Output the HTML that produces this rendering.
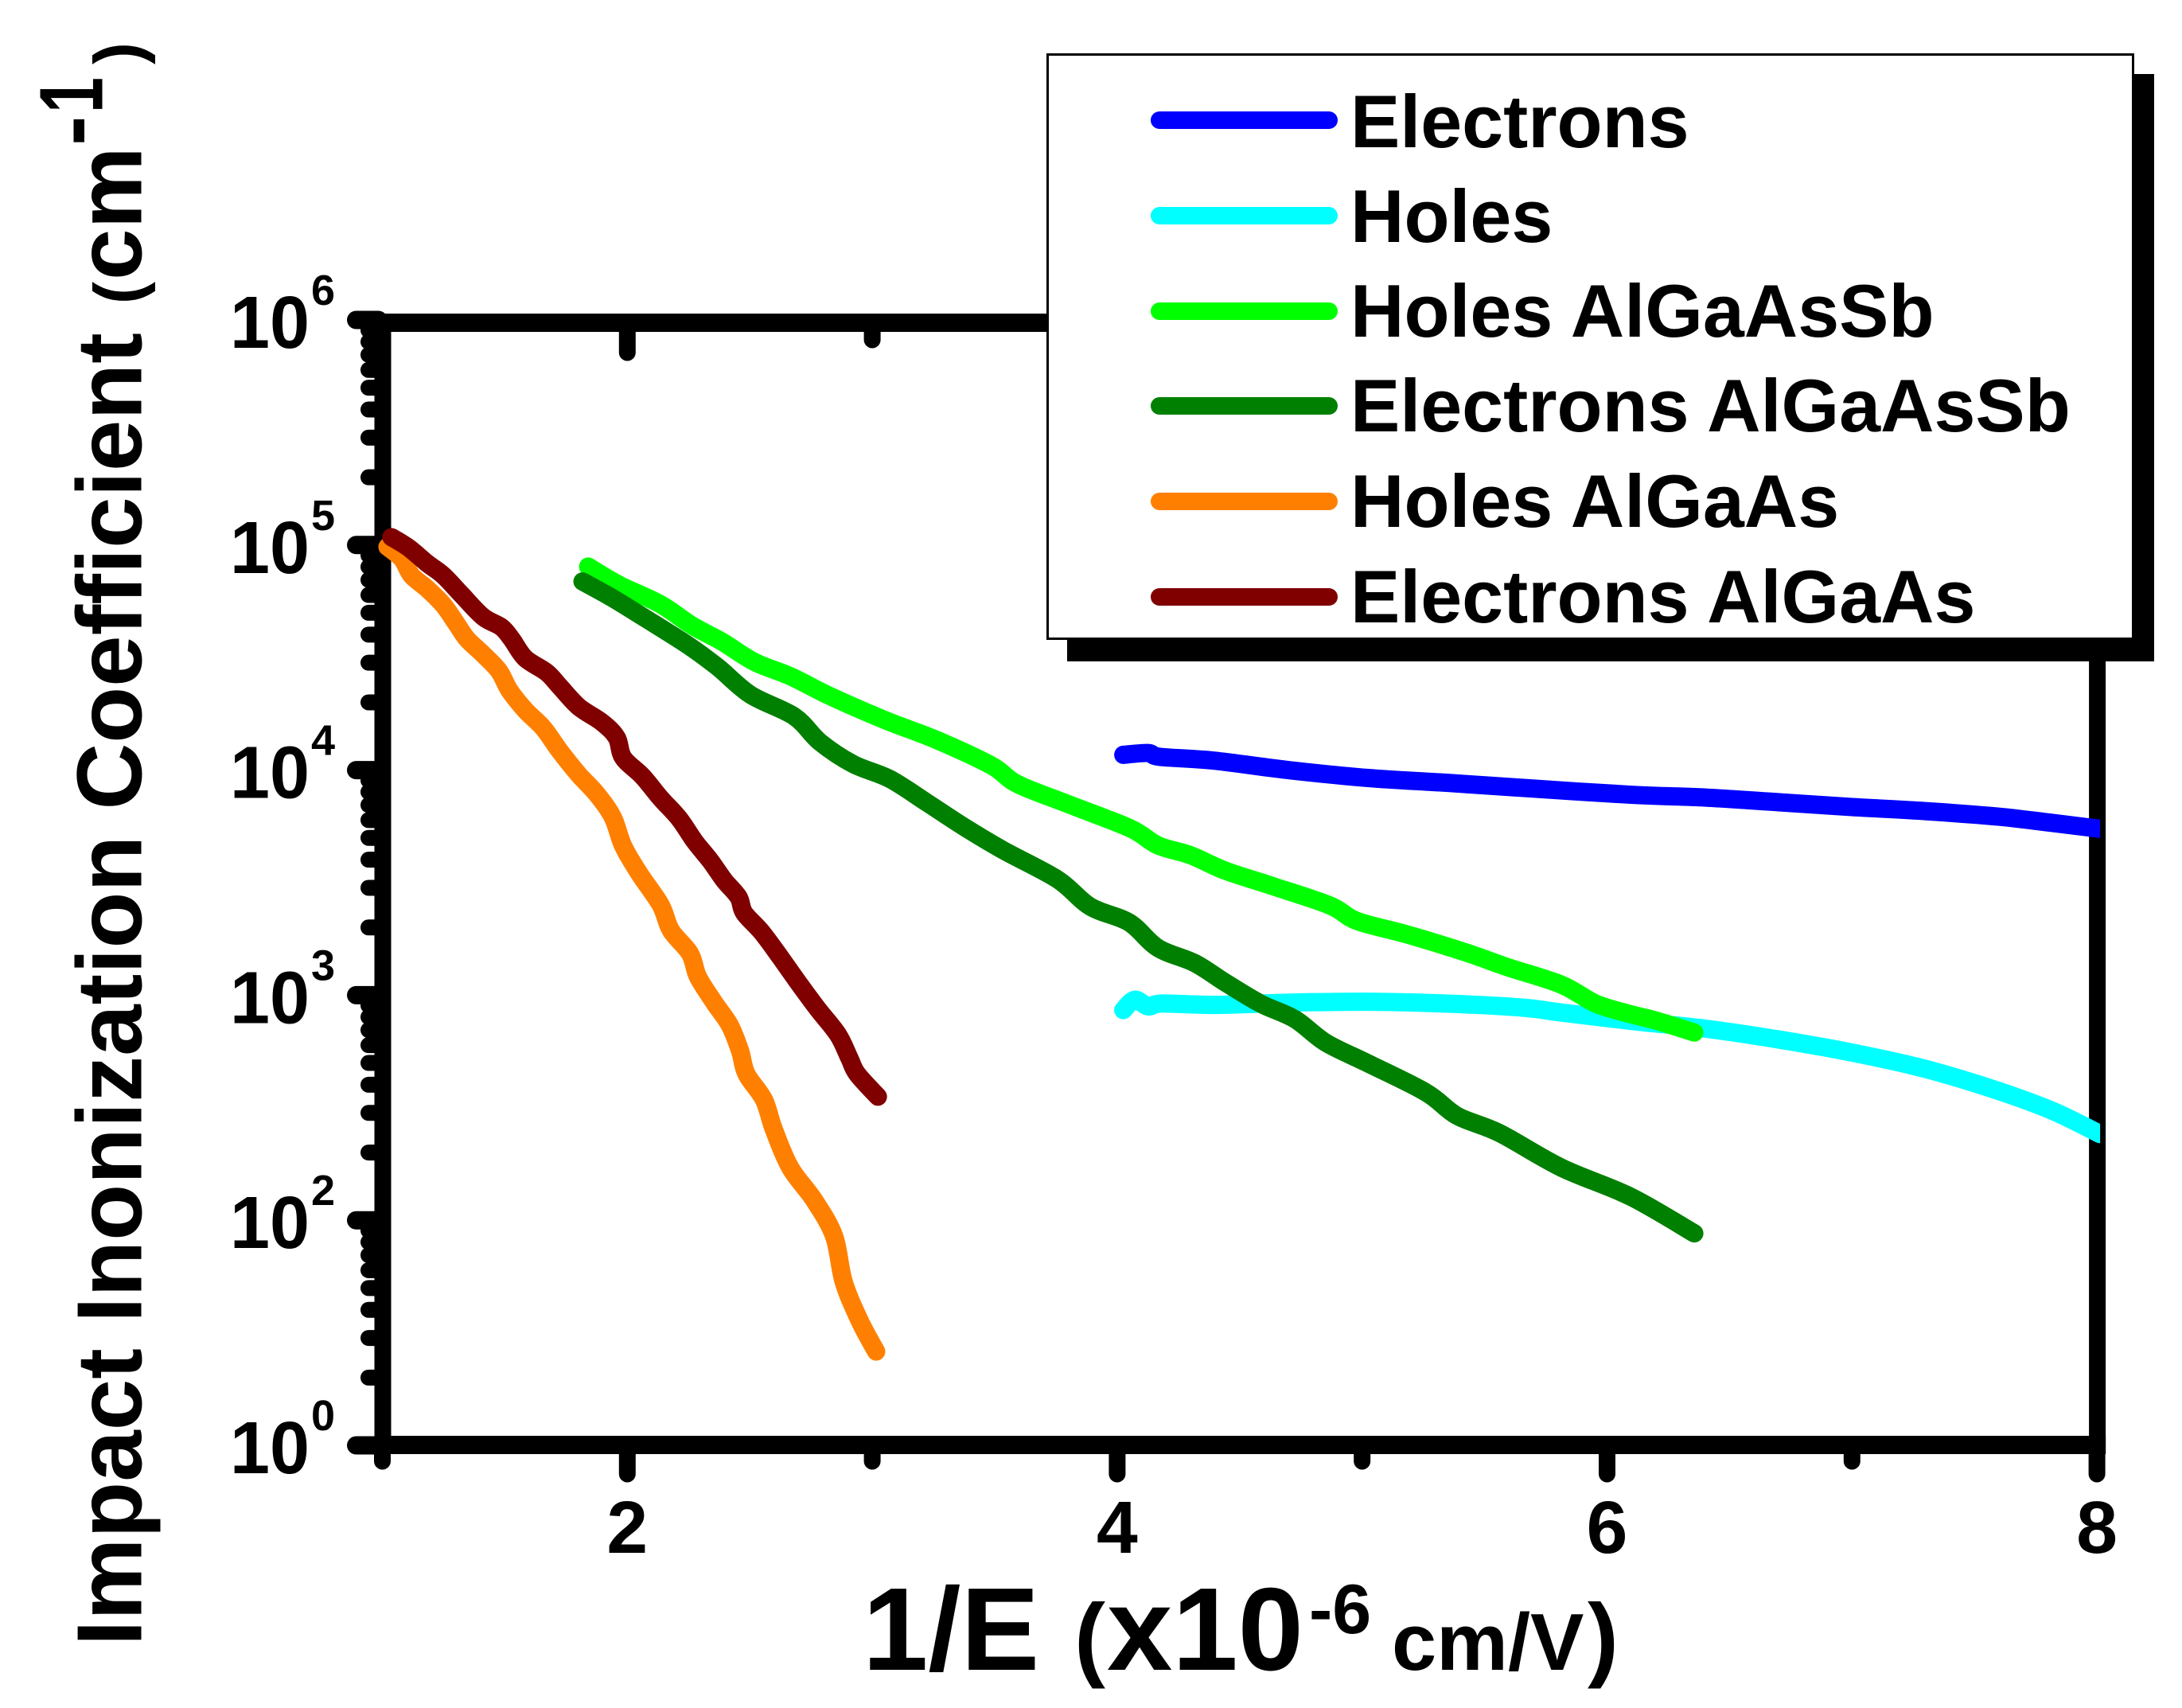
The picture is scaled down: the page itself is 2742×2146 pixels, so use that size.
<!DOCTYPE html>
<html lang="en">
<head>
<meta charset="utf-8">
<title>Impact Ionization Coefficient vs 1/E</title>
<style>
html,body{margin:0;padding:0;background:#fff;}
svg{display:block;}
text{font-family:"Liberation Sans",Arial,sans-serif;font-weight:700;fill:#000;}
</style>
</head>
<body>
<svg id="chart" xmlns="http://www.w3.org/2000/svg" width="2742" height="2146" viewBox="0 0 2742 2146">
  <rect x="0" y="0" width="2742" height="2146" fill="#fff"/>
  <defs><clipPath id="series-clip"><rect id="series-clip-rect" x="0" y="0" width="2742" height="2146"/></clipPath></defs>
  <g id="axes-layer"></g>
  <g id="series-layer" clip-path="url(#series-clip)"></g>
  <g id="labels-layer"></g>

  <g>
    <text transform="translate(177.5,2068) rotate(-90)" font-size="116">Impact Inonization Coefficient</text>
    <text transform="translate(177.5,382) rotate(-90)" font-size="84">(</text>
    <text transform="translate(177.5,352) rotate(-90)" font-size="116">cm</text>
    <text transform="translate(128.5,183) rotate(-90)" font-size="113">-</text>
    <text transform="translate(128.5,142) rotate(-90)" font-size="113" textLength="45" lengthAdjust="spacingAndGlyphs">1</text>
    <text transform="translate(177.5,81) rotate(-90)" font-size="84">)</text>
  </g>

  <g>
    <text x="1084" y="2098" font-size="148">1/E</text>
    <text x="1350" y="2097" font-size="117">(</text>
    <text x="1391" y="2098" font-size="148">x10</text>
    <text x="1645" y="2052" font-size="88">-6</text>
    <text x="1749" y="2098" font-size="101">cm/V</text>
    <text x="1995" y="2097" font-size="117">)</text>
  </g>

  <g>
    <rect x="1341" y="93" width="1366" height="738" fill="#000"/>
    <rect x="1316.5" y="68.5" width="1364" height="734" fill="#fff" stroke="#000" stroke-width="3"/>
    <g>
      <line x1="1457" x2="1670" y1="151" y2="151" stroke="#0000ff" stroke-width="22" stroke-linecap="round"/>
      <text x="1697" y="185" font-size="93.4">Electrons</text>
    </g>
    <g>
      <line x1="1457" x2="1670" y1="271" y2="271" stroke="#00ffff" stroke-width="22" stroke-linecap="round"/>
      <text x="1697" y="304" font-size="93.4">Holes</text>
    </g>
    <g>
      <line x1="1457" x2="1670" y1="391" y2="391" stroke="#00ff00" stroke-width="22" stroke-linecap="round"/>
      <text x="1697" y="423" font-size="93.4">Holes AlGaAsSb</text>
    </g>
    <g>
      <line x1="1457" x2="1670" y1="510" y2="510" stroke="#008000" stroke-width="22" stroke-linecap="round"/>
      <text x="1697" y="542" font-size="93.4">Electrons AlGaAsSb</text>
    </g>
    <g>
      <line x1="1457" x2="1670" y1="630" y2="630" stroke="#ff8000" stroke-width="22" stroke-linecap="round"/>
      <text x="1697" y="662" font-size="93.4">Holes AlGaAs</text>
    </g>
    <g>
      <line x1="1457" x2="1670" y1="750" y2="750" stroke="#800000" stroke-width="22" stroke-linecap="round"/>
      <text x="1697" y="782" font-size="93.4">Electrons AlGaAs</text>
    </g>
  </g>
</svg>
<script>
// Tick values
const xMajorTicks = [2, 4, 6, 8];
const xMinorTicks = [1, 3, 5, 7];
// y positions are log10 decades; the bottom decade is printed "10^0" in the source figure
const yDecades = [6, 5, 4, 3, 2, 1];
const yExponentLabels = ['6', '5', '4', '3', '2', '0'];
const yMinorMultiples = [2, 3, 4, 5, 6, 7, 8, 9];

// Series values: x is 1/E (x10^-6 cm/V), y is log10 of the coefficient (cm^-1)
const electronsX = [4.025,4.127,4.174,4.395,4.709,5.024,5.339,5.654,6.106,6.403,6.702,7.000,7.298,7.597,7.821,8.013];
const electronsLog = [4.068,4.076,4.059,4.042,3.999,3.965,3.944,3.921,3.890,3.878,3.857,3.836,3.818,3.793,3.765,3.739];

const holesX = [4.025,4.072,4.127,4.182,4.395,4.709,5.024,5.339,5.654,5.806,6.106,6.403,6.702,7.000,7.298,7.597,7.821,8.013];
const holesLog = [2.934,2.980,2.950,2.963,2.957,2.967,2.971,2.963,2.945,2.924,2.885,2.851,2.803,2.745,2.673,2.575,2.485,2.383];

const holesAlGaAsSbX = [1.840,1.967,2.132,2.265,2.386,2.519,2.668,2.831,3.055,3.265,3.487,3.593,3.802,4.052,4.166,4.299,4.442,4.631,4.868,4.979,5.183,5.417,5.593,5.813,5.953,6.080,6.207,6.356];
const holesAlGaAsSbLog = [4.904,4.823,4.739,4.642,4.571,4.481,4.416,4.327,4.221,4.133,4.020,3.938,3.848,3.742,3.666,3.622,3.553,3.486,3.399,3.330,3.270,3.192,3.125,3.047,2.963,2.920,2.885,2.834];

const electronsAlGaAsSbX = [1.817,1.937,2.071,2.249,2.369,2.503,2.681,2.787,2.922,3.071,3.221,3.370,3.533,3.757,3.890,4.049,4.166,4.316,4.442,4.585,4.725,4.852,5.024,5.261,5.388,5.560,5.813,6.096,6.356];
const electronsAlGaAsSbLog = [4.838,4.766,4.676,4.554,4.458,4.335,4.239,4.124,4.027,3.961,3.857,3.751,3.645,3.514,3.394,3.323,3.210,3.143,3.056,2.963,2.894,2.789,2.697,2.568,2.464,2.388,2.234,2.105,1.942];

const holesAlGaAsX = [1.021,1.080,1.119,1.184,1.249,1.301,1.346,1.411,1.476,1.518,1.583,1.658,1.723,1.801,1.876,1.941,1.983,2.048,2.136,2.178,2.256,2.288,2.353,2.418,2.460,2.486,2.558,2.597,2.665,2.763,2.844,2.883,2.948,3.016];
const holesAlGaAsLog = [4.992,4.939,4.865,4.805,4.734,4.653,4.582,4.515,4.441,4.356,4.267,4.186,4.087,3.981,3.893,3.790,3.663,3.542,3.401,3.288,3.185,3.083,2.970,2.867,2.754,2.651,2.535,2.407,2.234,2.089,1.930,1.728,1.555,1.417];

const electronsAlGaAsX = [1.037,1.106,1.184,1.249,1.323,1.411,1.486,1.528,1.583,1.671,1.723,1.801,1.898,1.957,1.983,2.061,2.136,2.210,2.275,2.340,2.395,2.454,2.477,2.548,2.623,2.694,2.776,2.860,2.906,2.938,3.023];
const electronsAlGaAsLog = [5.035,4.989,4.918,4.865,4.780,4.681,4.635,4.582,4.497,4.434,4.373,4.282,4.211,4.144,4.055,3.974,3.875,3.787,3.684,3.596,3.511,3.436,3.366,3.281,3.171,3.062,2.941,2.825,2.722,2.651,2.549];

const seriesOrder = [
  ['electrons', '#0000ff', electronsX, electronsLog],
  ['holes', '#00ffff', holesX, holesLog],
  ['holes-algaassb', '#00ff00', holesAlGaAsSbX, holesAlGaAsSbLog],
  ['electrons-algaassb', '#008000', electronsAlGaAsSbX, electronsAlGaAsSbLog],
  ['holes-algaas', '#ff8000', holesAlGaAsX, holesAlGaAsLog],
  ['electrons-algaas', '#800000', electronsAlGaAsX, electronsAlGaAsLog]
];

// Axis functions
function xScale(v) { return 480.5 + (v - 1) * 307.8; }
function yScale(logV) { return 402 + (6 - logV) * 282.8; }

const NS = 'http://www.w3.org/2000/svg';
const axesLayer = document.getElementById('axes-layer');
const seriesLayer = document.getElementById('series-layer');
const labelsLayer = document.getElementById('labels-layer');

function make(tag, parent, attrs) {
  const el = document.createElementNS(NS, tag);
  for (const k in attrs) el.setAttribute(k, attrs[k]);
  parent.appendChild(el);
  return el;
}

// Axis frame
const frameLeft = xScale(1) - 10;
const frameRight = xScale(8) + 11;
const frameTop = yScale(6) - 8;
const frameBottom = yScale(1) + 11;

const axisTop = make('rect', axesLayer, { x: frameLeft, y: frameTop, width: frameRight - frameLeft, height: 23, fill: '#000' });



const axisBottom = make('rect', axesLayer, { x: frameLeft, y: frameBottom - 23, width: frameRight - frameLeft, height: 23, fill: '#000' });



const axisLeft = make('rect', axesLayer, { x: frameLeft, y: frameTop, width: 21, height: frameBottom - frameTop, fill: '#000' });



const axisRight = make('rect', axesLayer, { x: frameRight - 21, y: frameTop, width: 21, height: frameBottom - frameTop, fill: '#000' });



// X ticks (bottom and mirrored on top)
xMajorTicks.forEach(function (v) {
  const px = xScale(v);
  const t = make('line', axesLayer, { x1: px, x2: px, y1: frameBottom - 5, y2: frameBottom + 25, stroke: '#000', 'stroke-width': 21, 'stroke-linecap': 'round' });
  
  
  const top = make('line', axesLayer, { x1: px, x2: px, y1: frameTop + 15, y2: frameTop + 49, stroke: '#000', 'stroke-width': 21, 'stroke-linecap': 'round' });
  
  
  const lab = make('text', labelsLayer, { x: px, y: 1951, 'font-size': 93, 'text-anchor': 'middle' });
  lab.textContent = String(v);
  
  
});
xMinorTicks.forEach(function (v) {
  const px = xScale(v);
  const t = make('line', axesLayer, { x1: px, x2: px, y1: frameBottom - 5, y2: frameBottom + 9, stroke: '#000', 'stroke-width': 21, 'stroke-linecap': 'round' });
  
  
  const top = make('line', axesLayer, { x1: px, x2: px, y1: frameTop + 15, y2: frameTop + 33, stroke: '#000', 'stroke-width': 21, 'stroke-linecap': 'round' });
  
  
});

// Y ticks and labels
yDecades.forEach(function (d, i) {
  const py = yScale(d);
  const t = make('line', axesLayer, { x1: frameLeft + 5, x2: 447.5, y1: py, y2: py, stroke: '#000', 'stroke-width': 23, 'stroke-linecap': 'round' });
  
  
  const base = make('text', labelsLayer, { x: 289, y: py + 35, 'font-size': 93, textLength: 100, lengthAdjust: 'spacingAndGlyphs' });
  base.textContent = '10';
  
  
  const sup = make('text', labelsLayer, { x: 391, y: py - 19, 'font-size': 54 });
  sup.textContent = yExponentLabels[i];
  
  
  if (i < yDecades.length - 1) {
    yMinorMultiples.forEach(function (m) {
      const my = yScale(d - 1 + Math.log10(m));
      const mt = make('line', axesLayer, { x1: frameLeft + 5, x2: 463, y1: my, y2: my, stroke: '#000', 'stroke-width': 20, 'stroke-linecap': 'round' });
      
      
    });
  }
});

// Clip series at the right axis midpoint, as in the source figure
document.getElementById('series-clip-rect').setAttribute('width', xScale(8) + 4);

// Smooth path through the scaled data points
function smoothPath(xs, ys) {
  const pts = xs.map(function (v, i) { return [xScale(v), yScale(ys[i])]; });
  let d = 'M' + pts[0][0].toFixed(1) + ' ' + pts[0][1].toFixed(1);
  for (let i = 0; i < pts.length - 1; i++) {
    const p0 = pts[Math.max(i - 1, 0)];
    const p1 = pts[i];
    const p2 = pts[i + 1];
    const p3 = pts[Math.min(i + 2, pts.length - 1)];
    const c1x = p1[0] + (p2[0] - p0[0]) / 6;
    const c1y = p1[1] + (p2[1] - p0[1]) / 6;
    const c2x = p2[0] - (p3[0] - p1[0]) / 6;
    const c2y = p2[1] - (p3[1] - p1[1]) / 6;
    d += 'C' + c1x.toFixed(1) + ' ' + c1y.toFixed(1) + ' ' + c2x.toFixed(1) + ' ' + c2y.toFixed(1) + ' ' + p2[0].toFixed(1) + ' ' + p2[1].toFixed(1);
  }
  return d;
}

// Series
seriesOrder.forEach(function (s) {
  const path = make('path', seriesLayer, { d: smoothPath(s[2], s[3]), fill: 'none', stroke: s[1], 'stroke-width': 23, 'stroke-linecap': 'round', 'stroke-linejoin': 'round' });
  
  
});
</script>
</body>
</html>
